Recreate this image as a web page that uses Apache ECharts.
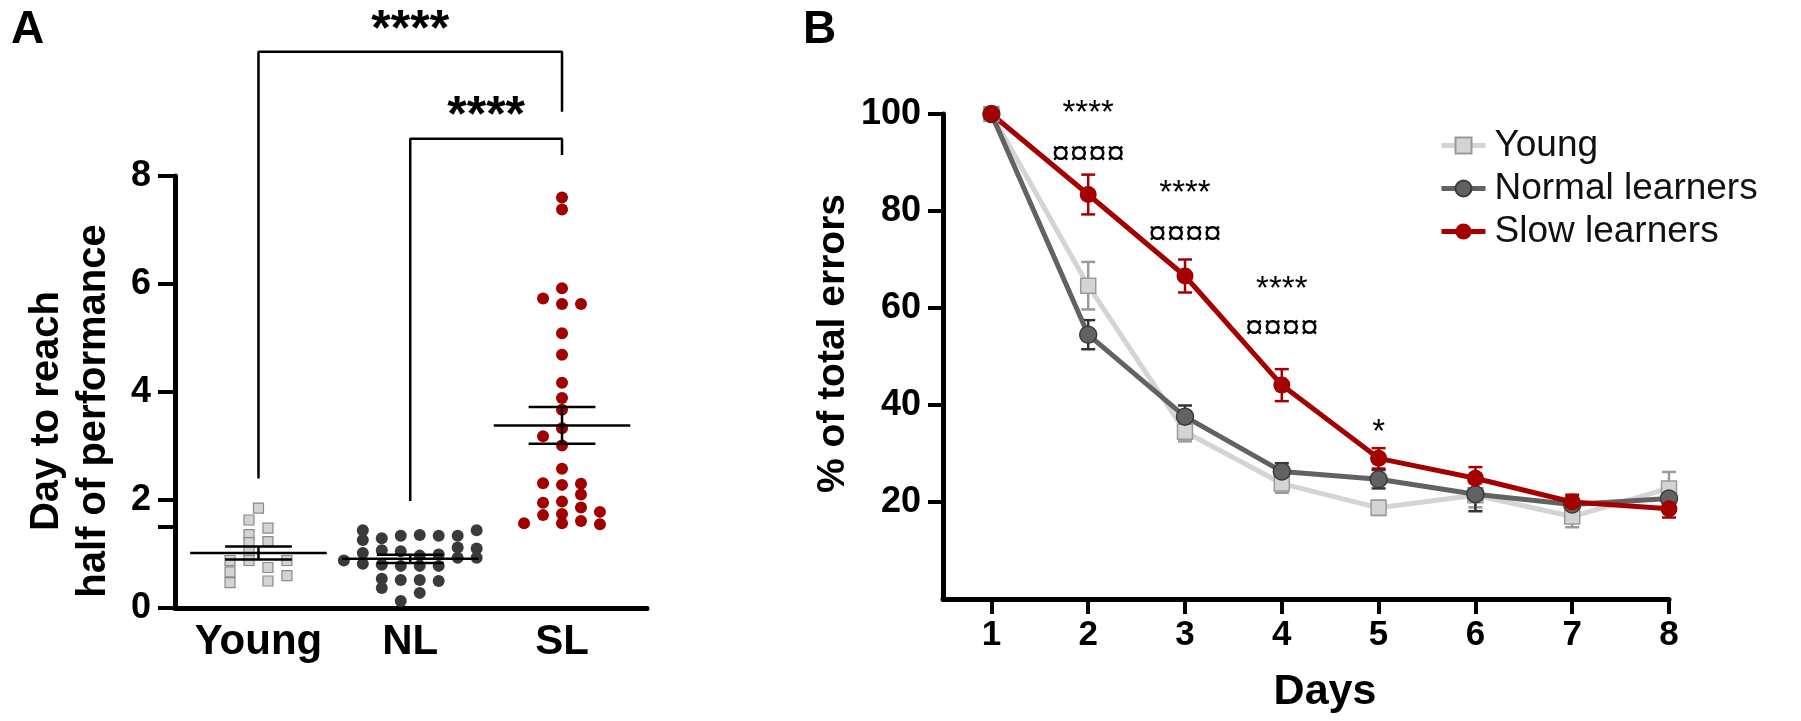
<!DOCTYPE html>
<html>
<head>
<meta charset="utf-8">
<script src="https://cdn.jsdelivr.net/npm/echarts@6/dist/echarts.min.js"></script>
<style>
  html, body { margin: 0; padding: 0; background: #fff; }
  #chart { width: 1801px; height: 721px; }
</style>
</head>
<body>
<div id="chart"></div>
<script>
// ---- Panel A: day to reach half of performance ----
const groupNames = ['Young', 'NL', 'SL'];
// [column offset (half steps), value]
const youngPoints = [
  [0, 1.85], [-1, 1.63], [1, 1.48], [-1, 1.36], [-1, 1.21], [1, 1.23], [-1, 1.05],
  [-3, 0.88], [-1, 0.88], [3, 0.88], [1, 0.75], [-3, 0.67], [3, 0.60], [-3, 0.47], [1, 0.50]
];
const nlPoints = [
  [-5, 1.44], [7, 1.44],
  [-3, 1.29], [-1, 1.34], [1, 1.35], [3, 1.34], [5, 1.34],
  [-5, 1.26], [5, 1.12], [7, 1.10],
  [-5, 1.02], [-3, 1.07], [-1, 1.05], [1, 0.97], [3, 0.99], [5, 0.93], [7, 0.93], [-7, 0.88],
  [-5, 0.82], [-3, 0.80], [-1, 0.78], [1, 0.78], [3, 0.78],
  [-3, 0.54], [-1, 0.52], [1, 0.52], [3, 0.50],
  [-3, 0.37], [1, 0.28], [-1, 0.13]
];
const slPoints = [
  [0, 7.60], [0, 7.38], [0, 5.92], [-2, 5.73], [0, 5.63], [2, 5.63], [0, 5.09], [0, 4.69],
  [0, 4.17], [0, 3.89], [0, 3.67], [0, 3.33], [-2, 3.18], [0, 3.01], [0, 2.58],
  [-2, 2.31], [0, 2.28], [2, 2.30], [2, 2.10], [-2, 1.95], [0, 1.97], [2, 1.86],
  [-2, 1.72], [0, 1.74], [4, 1.78], [-4, 1.57], [0, 1.57], [2, 1.61], [4, 1.55]
];
const groupMean = [1.02, 0.91, 3.38];
const groupSem = [0.12, 0.075, 0.34];
// brackets: [fromGroup, toGroup, leftFoot, top, rightFoot]
const brackets = [
  [1, 3, 2.4, 10.3, 9.19],
  [2, 3, 1.98, 8.69, 8.39]
];
const bracketText = ['****', '****'];
const bracketTextPos = [[2, 10.68], [2.5, 9.08]];

// ---- Panel B: % of total errors ----
const days = [1, 2, 3, 4, 5, 6, 7, 8];
const youngMean = [100, 64.6, 34.5, 23.8, 18.8, 21.4, 17.0, 22.8];
const youngSem = [0, 4.9, 2.0, 1.9, 1.5, 2.5, 2.2, 3.4];
const normalMean = [100, 54.5, 37.6, 26.3, 24.7, 21.6, 19.5, 20.7];
const normalSem = [0, 3.0, 2.3, 1.7, 1.9, 3.5, 1.5, 2.5];
const slowMean = [100, 83.4, 66.6, 44.1, 29.0, 24.9, 20.0, 18.6];
const slowSem = [0, 4.1, 3.4, 3.3, 2.1, 2.3, 1.5, 1.8];
const starDays = [2, 3, 4, 5];
const starText = ['****', '****', '****', '*'];
const starY = [100.0, 83.5, 63.7, 34.2];
const curDays = [2, 3, 4];
const curText = ['¤¤¤¤', '¤¤¤¤', '¤¤¤¤'];
const curY = [91.6, 75.0, 55.7];
const yTicksB = [20, 40, 60, 80, 100];

const FONT = '"Liberation Sans", Arial, sans-serif';
const colStep = 0.0625;
const RED = '#a50000';

function jitter(points, g) {
  return points.map(p => [g + p[0] * colStep, p[1]]);
}

function errBars(means, sems, color) {
  return {
    type: 'custom', xAxisIndex: 1, yAxisIndex: 1, z: 2,
    data: days.map((d, i) => [d, means[i] - sems[i], means[i] + sems[i]]),
    renderItem: (params, api) => {
      if (api.value(2) - api.value(1) <= 0) return;
      const lo = api.coord([api.value(0), api.value(1)]);
      const hi = api.coord([api.value(0), api.value(2)]);
      const st = { stroke: color, lineWidth: 2.5 };
      const w = 7;
      return { type: 'group', children: [
        { type: 'line', shape: { x1: lo[0], y1: lo[1], x2: hi[0], y2: hi[1] }, style: st },
        { type: 'line', shape: { x1: lo[0] - w, y1: lo[1], x2: lo[0] + w, y2: lo[1] }, style: st },
        { type: 'line', shape: { x1: hi[0] - w, y1: hi[1], x2: hi[0] + w, y2: hi[1] }, style: st }
      ]};
    }
  };
}

function textSeries(xs, ys, texts, xi, size, weight) {
  return {
    type: 'scatter', xAxisIndex: xi, yAxisIndex: xi, clip: false, silent: true,
    symbolSize: 1, itemStyle: { color: 'rgba(0,0,0,0)', opacity: 1 },
    data: xs.map((x, i) => ({ value: [x, ys[i]], txt: texts[i] })),
    label: {
      show: true, position: 'inside', color: '#000', fontFamily: FONT,
      fontSize: size, fontWeight: weight,
      formatter: p => p.data.txt
    }
  };
}

const chart = echarts.init(document.getElementById('chart'), null, { renderer: 'canvas' });

const axisText = { color: '#000', fontFamily: FONT, fontWeight: 'bold' };

const option = {
  animation: false,
  backgroundColor: '#fff',
  title: [
    { text: 'A', left: 6, top: 2, textStyle: { ...axisText, fontSize: 46 } },
    { text: 'B', left: 798, top: 2, textStyle: { ...axisText, fontSize: 46 } }
  ],
  grid: [
    { left: 175, top: 176, width: 472, height: 432 },
    { left: 943, top: 114, width: 726, height: 485 }
  ],
  legend: {
    orient: 'vertical', left: 1434, top: 122, itemWidth: 44, itemHeight: 20, itemGap: 6,
    data: ['Young', 'Normal learners', 'Slow learners'],
    lineStyle: { width: 5 },
    textStyle: { fontFamily: FONT, fontSize: 37, color: '#111', padding: [0, 0, 0, 4] }
  },
  xAxis: [
    {
      gridIndex: 0, type: 'value', min: 0.45, max: 3.56,
      axisLine: { show: true, onZero: false, lineStyle: { color: '#000', width: 5 } },
      axisTick: { show: false }, splitLine: { show: false },
      axisLabel: {
        ...axisText, fontSize: 42, margin: 13,
        customValues: [1, 2, 3],
        formatter: v => groupNames[Math.round(v) - 1]
      }
    },
    {
      gridIndex: 1, type: 'value', min: 0.5, max: 8,
      name: 'Days', nameLocation: 'middle', nameGap: 72,
      nameTextStyle: { ...axisText, fontSize: 43, padding: [0, 0, 0, 38] },
      axisLine: { show: true, onZero: false, lineStyle: { color: '#000', width: 5 } },
      axisTick: { show: true, length: 15, customValues: days, lineStyle: { color: '#000', width: 4 } },
      splitLine: { show: false },
      axisLabel: { ...axisText, fontSize: 35, margin: 19, customValues: days }
    }
  ],
  yAxis: [
    {
      gridIndex: 0, type: 'value', min: 0, max: 8, interval: 2,
      name: 'Day to reach\nhalf of performance', nameLocation: 'middle', nameGap: 58, nameRotate: 90,
      nameTextStyle: { ...axisText, fontSize: 40, lineHeight: 47, padding: [0, 38, 0, 0] },
      axisLine: { show: true, onZero: false, lineStyle: { color: '#000', width: 5 } },
      axisTick: { show: true, length: 17, customValues: [0, 1.5, 2, 4, 6, 8], lineStyle: { color: '#000', width: 4 } },
      splitLine: { show: false },
      axisLabel: { ...axisText, fontSize: 36, margin: 24 }
    },
    {
      gridIndex: 1, type: 'value', min: 0, max: 100,
      name: '% of total errors', nameLocation: 'middle', nameGap: 90, nameRotate: 90,
      nameTextStyle: { ...axisText, fontSize: 39, padding: [0, 0, 0, 26] },
      axisLine: { show: true, onZero: false, lineStyle: { color: '#000', width: 5 } },
      axisTick: { show: true, length: 15, customValues: yTicksB, lineStyle: { color: '#000', width: 4 } },
      splitLine: { show: false },
      axisLabel: { ...axisText, fontSize: 36, margin: 22, customValues: yTicksB }
    }
  ],
  series: [
    // Panel A brackets
    ...brackets.map(b => ({
      type: 'line', xAxisIndex: 0, yAxisIndex: 0, clip: false, silent: true,
      symbol: 'none', lineStyle: { color: '#000', width: 2.5 },
      data: [[b[0], b[2]], [b[0], b[3]], [b[1], b[3]], [b[1], b[4]]]
    })),
    textSeries(bracketTextPos.map(p => p[0]), bracketTextPos.map(p => p[1]), bracketText, 0, 50, 'bold'),
    // Panel A points
    {
      type: 'scatter', xAxisIndex: 0, yAxisIndex: 0, symbol: 'rect', symbolSize: 10,
      itemStyle: { color: '#d3d3d3', borderColor: '#8a8a8a', borderWidth: 1.2, opacity: 1 },
      data: jitter(youngPoints, 1)
    },
    {
      type: 'scatter', xAxisIndex: 0, yAxisIndex: 0, symbol: 'circle', symbolSize: 12,
      itemStyle: { color: '#3a3a3a', opacity: 1 },
      data: jitter(nlPoints, 2)
    },
    {
      type: 'scatter', xAxisIndex: 0, yAxisIndex: 0, symbol: 'circle', symbolSize: 12,
      itemStyle: { color: '#a00000', opacity: 1 },
      data: jitter(slPoints, 3)
    },
    // Panel A mean +/- SEM
    {
      type: 'custom', xAxisIndex: 0, yAxisIndex: 0, z: 5,
      data: groupMean.map((m, i) => [i + 1, m, m - groupSem[i], m + groupSem[i]]),
      renderItem: (params, api) => {
        const x = api.value(0);
        const st = { stroke: '#000', lineWidth: 2.5 };
        const seg = (x1, y1, x2, y2) => {
          const a = api.coord([x1, y1]);
          const b = api.coord([x2, y2]);
          return { type: 'line', shape: { x1: a[0], y1: a[1], x2: b[0], y2: b[1] }, style: st };
        };
        const m = api.value(1), lo = api.value(2), hi = api.value(3);
        return { type: 'group', children: [
          seg(x - 0.45, m, x + 0.45, m),
          seg(x - 0.22, lo, x + 0.22, lo),
          seg(x - 0.22, hi, x + 0.22, hi),
          seg(x, lo, x, hi)
        ]};
      }
    },
    // Panel B
    errBars(youngMean, youngSem, '#9a9a9a'),
    {
      name: 'Young', type: 'line', xAxisIndex: 1, yAxisIndex: 1,
      symbol: 'rect', symbolSize: 15,
      lineStyle: { color: '#d4d4d4', width: 5 },
      itemStyle: { color: '#d4d4d4', borderColor: '#9a9a9a', borderWidth: 1.5 },
      data: days.map((d, i) => [d, youngMean[i]])
    },
    errBars(normalMean, normalSem, '#333333'),
    {
      name: 'Normal learners', type: 'line', xAxisIndex: 1, yAxisIndex: 1,
      symbol: 'circle', symbolSize: 17,
      lineStyle: { color: '#626262', width: 5 },
      itemStyle: { color: '#626262', borderColor: '#3a3a3a', borderWidth: 1.5 },
      data: days.map((d, i) => [d, normalMean[i]])
    },
    errBars(slowMean, slowSem, RED),
    {
      name: 'Slow learners', type: 'line', xAxisIndex: 1, yAxisIndex: 1,
      symbol: 'circle', symbolSize: 17,
      lineStyle: { color: RED, width: 5 },
      itemStyle: { color: RED },
      data: days.map((d, i) => [d, slowMean[i]])
    },
    textSeries(starDays, starY, starText, 1, 33, 'normal'),
    textSeries(curDays, curY, curText, 1, 33, 'normal')
  ]
};

chart.setOption(option);
</script>
</body>
</html>
